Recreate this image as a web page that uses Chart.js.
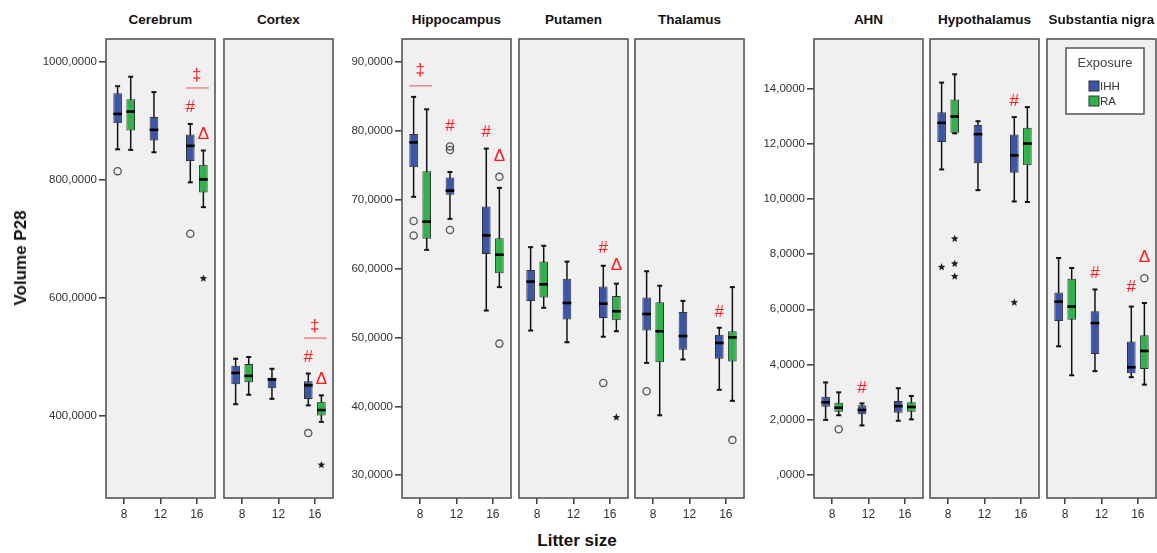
<!DOCTYPE html>
<html lang="en">
<head>
    <meta charset="UTF-8">
    <title>Volume P28 by litter size</title>
    <script src="https://cdn.jsdelivr.net/npm/chart.js"></script>
    <style>
        body { margin: 0; background: #fff; }
        #wrap { position: relative; width: 1157px; height: 553px; overflow: hidden; font-family: "Liberation Sans", Arial, sans-serif; }
        .holder { position: absolute; }
        .title { position: absolute; text-align: center; font-weight: bold; font-size: 13.5px; color: #111; white-space: nowrap; }
        .axisTitle { position: absolute; font-weight: bold; font-size: 17px; color: #111; white-space: nowrap; }
    </style>
</head>
<body>
<div id="wrap"></div>
<script>
    // ---- data (boxes are [low whisker, q1, median, q3, high whisker]) ----
    const litterSizes = ['8', '12', '16'];
    const seriesNames = ['IHH', 'RA'];
    const seriesColors = ['#3b56a8', '#2eb24a'];

    const ticksBrain = [400, 600, 800, 1000];
    const ticksLimbic = [30, 40, 50, 60, 70, 80, 90];
    const ticksSmall = [0, 2, 4, 6, 8, 10, 12, 14];

    const cerebrumIHH = [[852, 896, 912, 947, 959], [847, 867, 885, 907, 949], [796, 832, 858, 877, 895]];
    const cerebrumRA  = [[851, 884, 916, 937, 975], null, [754, 779, 801, 826, 850]];
    const cerebrumOut = [[0, 0, 815, 'o'], [2, 0, 709, 'o'], [2, 1, 633, '*']];
    const cerebrumMarks = [[2, -1, 978, '‡'], [2, -1, 956, 'line'], [2, 0, 924, '#'], [2, 1, 877, 'Δ']];

    const cortexIHH = [[420, 454, 473, 485, 497], [429, 447, 462, 465, 480], [418, 429, 452, 459, 472]];
    const cortexRA  = [[436, 457, 468, 488, 500], null, [390, 401, 410, 424, 435]];
    const cortexOut = [[2, 0, 371, 'o'], [2, 1, 317, '*']];
    const cortexMarks = [[2, -1, 552, '‡'], [2, -1, 532, 'line'], [2, 0, 499, '#'], [2, 1, 463, 'Δ']];

    const hippocampusIHH = [[70.4, 74.7, 78.3, 79.5, 84.9], [67.2, 70.7, 71.3, 73.2, 74.0], [53.9, 62.1, 64.8, 69.0, 77.4]];
    const hippocampusRA  = [[62.7, 64.3, 66.8, 74.1, 83.1], null, [57.3, 59.3, 62.0, 64.4, 71.7]];
    const hippocampusOut = [[0, 0, 66.9, 'o'], [0, 0, 64.8, 'o'], [1, 0, 77.7, 'o'], [1, 0, 77.2, 'o'],
                            [1, 0, 65.6, 'o'], [2, 1, 73.3, 'o'], [2, 1, 49.1, 'o']];
    const hippocampusMarks = [[0, -1, 88.8, '‡'], [0, -1, 86.5, 'line'], [1, 0, 80.7, '#'], [2, 0, 79.7, '#'], [2, 1, 76.3, 'Δ']];

    const putamenIHH = [[51.0, 55.3, 58.1, 59.8, 63.1], [49.3, 52.6, 55.0, 58.5, 61.0], [50.1, 52.8, 54.9, 57.4, 60.4]];
    const putamenRA  = [[54.3, 55.8, 57.7, 61.0, 63.3], null, [50.9, 52.5, 53.8, 56.0, 57.8]];
    const putamenOut = [[2, 0, 43.4, 'o'], [2, 1, 38.4, '*']];
    const putamenMarks = [[2, 0, 62.9, '#'], [2, 1, 60.5, 'Δ']];

    const thalamusIHH = [[46.3, 51.0, 53.4, 55.8, 59.6], [46.8, 48.2, 50.2, 53.7, 55.3], [42.4, 46.9, 49.2, 50.4, 51.4]];
    const thalamusRA  = [[38.7, 46.4, 50.9, 55.1, 57.5], null, [40.8, 46.5, 50.0, 50.9, 57.3]];
    const thalamusOut = [[0, 0, 42.2, 'o'], [2, 1, 35.1, 'o']];
    const thalamusMarks = [[2, 0, 53.7, '#']];

    const ahnIHH = [[1.99, 2.47, 2.63, 2.83, 3.35], [1.79, 2.20, 2.35, 2.52, 2.59], [1.96, 2.25, 2.49, 2.68, 3.14]];
    const ahnRA  = [[2.16, 2.29, 2.43, 2.61, 2.99], null, [2.01, 2.29, 2.46, 2.63, 2.86]];
    const ahnOut = [[0, 1, 1.65, 'o']];
    const ahnMarks = [[1, 0, 3.14, '#']];

    const hypothalamusIHH = [[11.07, 12.07, 12.76, 13.14, 14.22], [10.32, 11.30, 12.35, 12.68, 12.82], [9.91, 10.95, 11.58, 12.34, 12.97]];
    const hypothalamusRA  = [[12.38, 12.40, 12.99, 13.61, 14.52], null, [9.89, 11.22, 12.01, 12.58, 13.33]];
    const hypothalamusOut = [[0, 0, 7.53, '*'], [0, 1, 8.56, '*'], [0, 1, 7.65, '*'], [0, 1, 7.19, '*'], [2, 0, 6.25, '*']];
    const hypothalamusMarks = [[2, 0, 13.55, '#']];

    const nigraIHH = [[4.66, 5.58, 6.28, 6.61, 7.86], [3.76, 4.38, 5.50, 5.93, 6.72], [3.54, 3.68, 3.90, 4.83, 6.10]];
    const nigraRA  = [[3.61, 5.62, 6.10, 7.11, 7.50], null, [3.27, 3.84, 4.49, 5.06, 6.23]];
    const nigraOut = [[2, 1, 7.13, 'o']];
    const nigraMarks = [[1, 0, 7.29, '#'], [2, 0, 6.80, '#'], [2, 1, 7.90, 'Δ']];

    // y ranges of the three panel groups
    const groups = [
        { ticks: ticksBrain, min: 261, max: 1039 },
        { ticks: ticksLimbic, min: 26.7, max: 93.3 },
        { ticks: ticksSmall, min: -0.84, max: 15.8 }
    ];

    const panels = [
        { name: 'Cerebrum', group: 0, ihh: cerebrumIHH, ra: cerebrumRA, out: cerebrumOut, marks: cerebrumMarks },
        { name: 'Cortex', group: 0, ihh: cortexIHH, ra: cortexRA, out: cortexOut, marks: cortexMarks },
        { name: 'Hippocampus', group: 1, ihh: hippocampusIHH, ra: hippocampusRA, out: hippocampusOut, marks: hippocampusMarks },
        { name: 'Putamen', group: 1, ihh: putamenIHH, ra: putamenRA, out: putamenOut, marks: putamenMarks },
        { name: 'Thalamus', group: 1, ihh: thalamusIHH, ra: thalamusRA, out: thalamusOut, marks: thalamusMarks },
        { name: 'AHN', group: 2, ihh: ahnIHH, ra: ahnRA, out: ahnOut, marks: ahnMarks },
        { name: 'Hypothalamus', group: 2, ihh: hypothalamusIHH, ra: hypothalamusRA, out: hypothalamusOut, marks: hypothalamusMarks },
        { name: 'Substantia nigra', group: 2, ihh: nigraIHH, ra: nigraRA, out: nigraOut, marks: nigraMarks, legend: true }
    ];

    // ---- layout (pixel frame of each panel) ----
    const panelLeft = [106, 224, 402, 519, 635, 814, 930, 1047];
    const panelWidth = 109;
    const PANEL_TOP = 39, PANEL_BOTTOM = 498;
    const Y_AXIS_W = 100, X_AXIS_H = 26, PAD = 3;

    const fmt = v => v === 0 ? ',0000' : v.toFixed(4).replace('.', ',');

    const panelFrame = {
        id: 'panelFrame',
        beforeDraw(chart) {
            const a = chart.chartArea, ctx = chart.ctx;
            ctx.save();
            ctx.fillStyle = '#f0f0f0';
            ctx.fillRect(a.left, a.top, a.right - a.left, a.bottom - a.top);
            ctx.restore();
        },
        afterDraw(chart) {
            const a = chart.chartArea, ctx = chart.ctx;
            ctx.save();
            ctx.strokeStyle = '#555';
            ctx.lineWidth = 1.6;
            ctx.strokeRect(a.left, a.top, a.right - a.left, a.bottom - a.top);
            ctx.restore();
        }
    };

    function drawStar(ctx, x, y, r) {
        ctx.beginPath();
        for (let k = 0; k < 10; k++) {
            const rad = k % 2 ? r * 0.45 : r;
            const ang = -Math.PI / 2 + k * Math.PI / 5;
            ctx.lineTo(x + rad * Math.cos(ang), y + rad * Math.sin(ang));
        }
        ctx.closePath();
        ctx.fill();
    }

    // whiskers behind the boxes, medians / outliers / marks on top
    const boxExtras = {
        id: 'boxExtras',
        beforeDatasetsDraw(chart) {
            const ctx = chart.ctx, y = chart.scales.y;
            const p = chart.options.plugins.boxExtras.panel;
            ctx.save();
            ctx.strokeStyle = '#111';
            [p.ihh, p.ra].forEach((stats, s) => {
                const meta = chart.getDatasetMeta(s);
                stats.forEach((b, i) => {
                    if (!b) return;
                    const x = meta.data[i].x;
                    ctx.lineWidth = 1.5;
                    ctx.beginPath();
                    ctx.moveTo(x, y.getPixelForValue(b[0]));
                    ctx.lineTo(x, y.getPixelForValue(b[4]));
                    ctx.stroke();
                    ctx.lineWidth = 2;
                    [b[0], b[4]].forEach(v => {
                        const py = y.getPixelForValue(v);
                        ctx.beginPath();
                        ctx.moveTo(x - 2.5, py);
                        ctx.lineTo(x + 2.5, py);
                        ctx.stroke();
                    });
                });
            });
            ctx.restore();
        },
        afterDatasetsDraw(chart) {
            const ctx = chart.ctx, y = chart.scales.y, xs = chart.scales.x;
            const p = chart.options.plugins.boxExtras.panel;
            const metas = [chart.getDatasetMeta(0), chart.getDatasetMeta(1)];
            ctx.save();
            // medians
            ctx.strokeStyle = '#000';
            ctx.lineWidth = 2.6;
            [p.ihh, p.ra].forEach((stats, s) => {
                stats.forEach((b, i) => {
                    if (!b) return;
                    const el = metas[s].data[i];
                    const py = y.getPixelForValue(b[2]);
                    ctx.beginPath();
                    ctx.moveTo(el.x - el.width / 2, py);
                    ctx.lineTo(el.x + el.width / 2, py);
                    ctx.stroke();
                });
            });
            // outliers: circles and extreme stars
            p.out.forEach(([i, s, v, kind]) => {
                const x = metas[s].data[i].x, py = y.getPixelForValue(v);
                if (kind === 'o') {
                    ctx.strokeStyle = '#555';
                    ctx.lineWidth = 1.3;
                    ctx.beginPath();
                    ctx.arc(x, py, 3.6, 0, Math.PI * 2);
                    ctx.stroke();
                } else {
                    ctx.fillStyle = '#222';
                    drawStar(ctx, x, py, 4);
                }
            });
            // significance marks
            ctx.textAlign = 'center';
            ctx.textBaseline = 'middle';
            ctx.font = '17px "Liberation Sans", Arial, sans-serif';
            p.marks.forEach(([i, s, v, sym]) => {
                const x = s < 0 ? xs.getPixelForValue(i) : metas[s].data[i].x;
                const py = y.getPixelForValue(v);
                if (sym === 'line') {
                    ctx.strokeStyle = '#f06a6a';
                    ctx.lineWidth = 1.2;
                    ctx.beginPath();
                    ctx.moveTo(x - 11, py);
                    ctx.lineTo(x + 12, py);
                    ctx.stroke();
                } else {
                    ctx.fillStyle = '#ff1a1a';
                    ctx.fillText(sym, x, py);
                }
            });
            // legend box
            if (p.legend) {
                const a = chart.chartArea;
                const bx = a.right - 90, by = a.top + 9, bw = 78, bh = 66;
                ctx.fillStyle = '#fff';
                ctx.fillRect(bx, by, bw, bh);
                ctx.strokeStyle = '#555';
                ctx.lineWidth = 1.5;
                ctx.strokeRect(bx, by, bw, bh);
                ctx.fillStyle = '#444';
                ctx.font = '13px "Liberation Sans", Arial, sans-serif';
                ctx.fillText('Exposure', bx + bw / 2, by + 15);
                ctx.font = '11.5px "Liberation Sans", Arial, sans-serif';
                ctx.textAlign = 'left';
                seriesNames.forEach((n, s) => {
                    const cy = by + 38 + s * 15;
                    ctx.fillStyle = seriesColors[s];
                    ctx.fillRect(bx + 23, cy - 5, 10, 10);
                    ctx.strokeStyle = '#333';
                    ctx.lineWidth = 1;
                    ctx.strokeRect(bx + 23, cy - 5, 10, 10);
                    ctx.fillStyle = '#333';
                    ctx.fillText(n, bx + 34, cy + 0.5);
                });
            }
            ctx.restore();
        }
    };

    const wrap = document.getElementById('wrap');

    panels.forEach((p, k) => {
        const g = groups[p.group];
        const showY = k === 0 || panels[k - 1].group !== p.group;
        const yw = showY ? Y_AXIS_W : 0;
        const w = panelWidth + yw + PAD * 2;
        const h = PANEL_BOTTOM - PANEL_TOP + X_AXIS_H + PAD;

        const holder = document.createElement('div');
        holder.className = 'holder';
        holder.style.left = (panelLeft[k] - yw - PAD) + 'px';
        holder.style.top = (PANEL_TOP - PAD) + 'px';
        const canvas = document.createElement('canvas');
        canvas.width = w;
        canvas.height = h;
        holder.appendChild(canvas);
        wrap.appendChild(holder);

        const title = document.createElement('div');
        title.className = 'title';
        title.textContent = p.name;
        title.style.left = (panelLeft[k] - 20) + 'px';
        title.style.width = (panelWidth + 40) + 'px';
        title.style.top = '12px';
        wrap.appendChild(title);

        new Chart(canvas, {
            type: 'bar',
            data: {
                labels: litterSizes,
                datasets: [p.ihh, p.ra].map((stats, s) => ({
                    label: seriesNames[s],
                    data: stats.map(b => b ? [b[1], b[3]] : null),
                    backgroundColor: seriesColors[s],
                    borderColor: '#333',
                    borderWidth: 1,
                    borderSkipped: false,
                    categoryPercentage: 0.72,
                    barPercentage: 0.66
                }))
            },
            options: {
                responsive: false,
                animation: false,
                devicePixelRatio: 1,
                layout: { padding: { left: PAD, right: PAD, top: PAD, bottom: 0 } },
                plugins: {
                    legend: { display: false },
                    tooltip: { enabled: false },
                    boxExtras: { panel: p }
                },
                scales: {
                    x: {
                        border: { display: false },
                        grid: { offset: false, drawOnChartArea: false, drawTicks: true, tickLength: 6, color: '#444', lineWidth: 1.6 },
                        ticks: { color: '#333', padding: 3, font: { size: 12, family: '"Liberation Sans", Arial, sans-serif' } },
                        afterFit(scale) { scale.height = X_AXIS_H; scale.paddingLeft = 0; scale.paddingRight = 0; }
                    },
                    y: {
                        display: showY,
                        min: g.min,
                        max: g.max,
                        border: { display: false },
                        grid: { drawOnChartArea: false, drawTicks: true, tickLength: 7, color: '#444', lineWidth: 1.6 },
                        ticks: {
                            color: '#333',
                            padding: 2,
                            font: { size: 11.5, family: '"Liberation Sans", Arial, sans-serif' },
                            callback: v => fmt(v)
                        },
                        afterBuildTicks(scale) { scale.ticks = g.ticks.map(v => ({ value: v })); },
                        afterFit(scale) { scale.width = yw; scale.paddingTop = 0; scale.paddingBottom = 0; }
                    }
                }
            },
            plugins: [panelFrame, boxExtras]
        });
    });

    // axis titles
    const yTitle = document.createElement('div');
    yTitle.className = 'axisTitle';
    yTitle.textContent = 'Volume P28';
    yTitle.style.left = '21px';
    yTitle.style.top = '258px';
    yTitle.style.transform = 'translate(-50%, -50%) rotate(-90deg)';
    wrap.appendChild(yTitle);

    const xTitle = document.createElement('div');
    xTitle.className = 'axisTitle';
    xTitle.textContent = 'Litter size';
    xTitle.style.left = '577px';
    xTitle.style.top = '541px';
    xTitle.style.transform = 'translate(-50%, -50%)';
    wrap.appendChild(xTitle);
</script>
</body>
</html>
